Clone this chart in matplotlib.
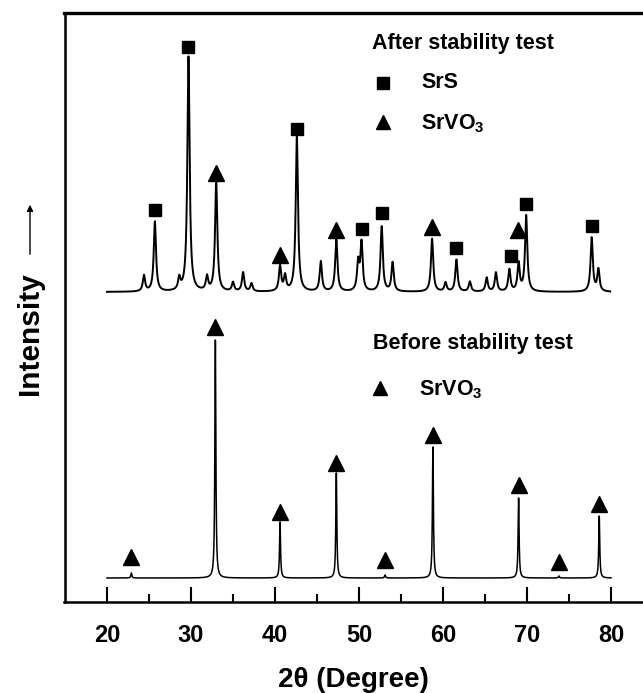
import numpy as np
import matplotlib
matplotlib.use("Agg")
import matplotlib.pyplot as plt
from matplotlib.lines import Line2D
from matplotlib.patches import FancyArrowPatch

plt.rcParams['font.family'] = ['Liberation Sans', 'DejaVu Sans']
plt.rcParams['mathtext.fontset'] = 'custom'
plt.rcParams['mathtext.bf'] = 'Liberation Sans:bold'
plt.rcParams['mathtext.rm'] = 'Liberation Sans'

# ---- data (2theta in degrees, intensity in arbitrary units) ----
# Before stability test
before_pos = [22.9, 32.9, 40.6, 47.3, 53.1, 58.8, 69.0, 73.8, 78.6]
before_hgt = [5, 238, 56, 105, 3, 131, 80, 2, 62]
before_base = 24

# After stability test (main and minor reflections)
after_pos = [24.4, 25.7, 28.6, 29.7, 31.9, 33.0, 35.0, 36.2, 37.2, 40.6, 41.2,
             42.6, 45.45, 47.3, 49.9, 50.3, 52.7, 54.0, 58.7, 60.3, 61.6, 63.2,
             65.2, 66.3, 67.9, 69.0, 69.9, 77.7, 78.5]
after_hgt = [16, 70, 12, 235, 14, 109, 9, 19, 8, 25, 15,
             155, 30, 52, 28, 48, 65, 29, 53, 9, 32, 10,
             14, 19, 22, 28, 76, 54, 22]
after_base = 310

# phase markers
after_srs_x = [25.7, 29.7, 42.6, 50.3, 52.7, 61.6, 68.1, 69.9, 77.7]
after_srs_y = [392, 555, 473, 373, 389, 354, 346, 398, 376]
after_svo_x = [33.0, 40.6, 47.3, 58.7, 68.9]
after_svo_y = [429, 347, 372, 375, 372]
before_svo_x = [22.9, 32.9, 40.6, 47.3, 53.1, 58.8, 69.0, 73.8, 78.6]
before_svo_y = [45, 275, 90, 139, 42, 167, 117, 40, 98]

x_ticks = [20, 30, 40, 50, 60, 70, 80]


def profile(x, pos, hgt, base, fwhm):
    y = np.full_like(x, float(base))
    g = fwhm / 2.0
    for p, h in zip(pos, hgt):
        y += h * g**2 / ((x - p)**2 + g**2)
    return y


W, H = 643, 693
fig = plt.figure(figsize=(W / 100, H / 100), dpi=100)
ax = fig.add_axes([64.5 / W, (H - 602) / H, 1 - 64.5 / W, (602 - 13) / H])

x1 = np.linspace(20, 80, 6001)
ax.plot(x1, profile(x1, before_pos, before_hgt, before_base, 0.14), color='black', lw=1.1)
x2 = np.linspace(20, 79.9, 6001)
ax.plot(x2, profile(x2, after_pos, after_hgt, after_base, 0.32), color='black', lw=1.4)

ax.plot(after_srs_x, after_srs_y, 's', color='black', ms=8.6, ls='none')
ax.plot(after_svo_x, after_svo_y, '^', color='black', ms=11.5, ls='none')
ax.plot(before_svo_x, before_svo_y, '^', color='black', ms=11.5, ls='none')

ax.set_xlim(14.94, 83.81)
ax.set_ylim(0, 589)
ax.set_xticks(x_ticks)
ax.set_xticks([25, 35, 45, 55, 65, 75], minor=True)
ax.set_yticks([])
ax.spines['right'].set_visible(False)
ax.spines['top'].set_linewidth(2.4)
ax.spines['left'].set_linewidth(1.8)
ax.spines['bottom'].set_linewidth(1.8)
ax.tick_params(axis='x', which='major', direction='in', length=10.8, width=1.5,
               labelsize=17, pad=16)
ax.tick_params(axis='x', which='minor', direction='in', length=5.8, width=1.5)
for lab in ax.get_xticklabels():
    lab.set_fontweight('bold')

ax.set_xlabel('2\u03b8 (Degree)', fontsize=20, fontweight='bold', labelpad=14)


def px(xp, yp):
    return xp / W, 1 - yp / H


def fig_marker(xp, yp, marker, ms):
    fx, fy = px(xp, yp)
    fig.add_artist(Line2D([fx], [fy], marker=marker, ms=ms, color='black',
                          ls='none', transform=fig.transFigure))


fs = 15.5
fig.text(*px(372, 44), 'After stability test', fontsize=fs, fontweight='bold', va='center', ha='left')
fig_marker(383, 83, 's', 8.0)
fig.text(*px(421, 83), 'SrS', fontsize=fs, fontweight='bold', va='center', ha='left')
fig_marker(383, 122, '^', 10.5)
fig.text(*px(421, 124), r'$\mathbf{SrVO_3}$', fontsize=fs, va='center', ha='left')

fig.text(*px(373, 344), 'Before stability test', fontsize=fs, fontweight='bold', va='center', ha='left')
fig_marker(380, 388, '^', 10.5)
fig.text(*px(419, 390), r'$\mathbf{SrVO_3}$', fontsize=fs, va='center', ha='left')

# y label with arrow
fig.text(*px(30, 334), 'Intensity', fontsize=21.5, fontweight='bold', rotation=90,
         va='center', ha='center')
fig.add_artist(FancyArrowPatch(px(30, 257), px(30, 202),
               transform=fig.transFigure, arrowstyle='-|>', mutation_scale=9,
               color='black', lw=1.0))

fig.savefig('out.png', dpi=100)
